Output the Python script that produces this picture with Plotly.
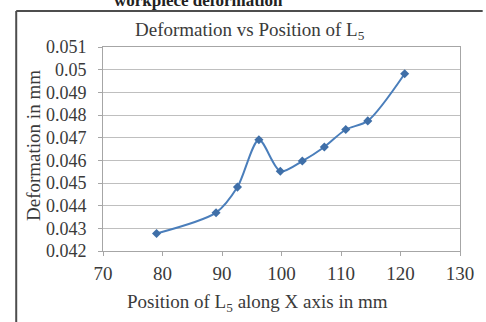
import plotly.graph_objects as go

# Position of L5 along the X axis (mm) and the resulting deformation (mm)
position_mm = [79.0, 89.0, 92.6, 96.2, 99.8, 103.5, 107.2, 110.8, 114.5, 120.7]
deformation_mm = [0.04277, 0.04369, 0.04482, 0.04691, 0.04552, 0.04597, 0.04659, 0.04736, 0.04774, 0.04982]

x_ticks = [70, 80, 90, 100, 110, 120, 130]
y_ticks = [0.042, 0.043, 0.044, 0.045, 0.046, 0.047, 0.048, 0.049, 0.05, 0.051]
y_tick_text = ["0.042", "0.043", "0.044", "0.045", "0.046", "0.047", "0.048", "0.049", "0.05", "0.051"]

W, H = 486, 322
L, R, T, B = 103, 21, 47, 71
pw, ph = W - L - R, H - T - B


def px_x(px):
    return (px - L) / pw


def px_y(py):
    return (H - B - py) / ph


serif = "Liberation Serif, Times New Roman, serif"
ink = "#3a3a3a"

fig = go.Figure()
fig.add_trace(go.Scatter(
    x=position_mm, y=deformation_mm,
    mode="lines+markers",
    line=dict(color="#4a7ebb", width=2, shape="spline", smoothing=0.8),
    marker=dict(symbol="diamond", size=7, color="#3f6fa8"),
    showlegend=False,
))

axis_common = dict(
    showline=True, linecolor="#a6a6a6", linewidth=1, mirror=True,
    ticks="outside", ticklen=4, tickcolor="#a6a6a6",
    zeroline=False,
)

fig.update_xaxes(range=[70, 130], tickvals=x_ticks, showgrid=False,
                 tickfont=dict(family=serif, size=19, color=ink),
                 ticklabelstandoff=1, **axis_common)
fig.update_yaxes(range=[0.042, 0.051], tickvals=y_ticks, ticktext=y_tick_text,
                 showgrid=True, gridcolor="#bfbfbf", gridwidth=1,
                 tickfont=dict(family=serif, size=18, color=ink),
                 ticklabelstandoff=8, **axis_common)

fig.update_layout(
    width=W, height=H,
    margin=dict(l=L, r=R, t=T, b=B),
    paper_bgcolor="white", plot_bgcolor="white",
    shapes=[
        # outer frame: left and top edges
        dict(type="line", xref="paper", yref="paper",
             x0=px_x(15), x1=px_x(15), y0=px_y(11), y1=px_y(H + 2),
             line=dict(color="#4d4d4d", width=2)),
        dict(type="line", xref="paper", yref="paper",
             x0=px_x(15), x1=px_x(W + 2), y0=px_y(11), y1=px_y(11),
             line=dict(color="#4d4d4d", width=2)),
    ],
    annotations=[
        dict(text="<b>workpiece deformation</b>", xref="paper", yref="paper",
             x=px_x(200), y=px_y(1), xanchor="center", yanchor="middle",
             showarrow=False, font=dict(family=serif, size=17, color="#222222")),
        dict(text="Deformation vs Position of L<sub>5</sub>", xref="paper", yref="paper",
             x=px_x(252), y=px_y(31), xanchor="center", yanchor="middle",
             showarrow=False, font=dict(family=serif, size=19, color=ink)),
        dict(text="Position of L<sub>5</sub> along X axis in mm", xref="paper", yref="paper",
             x=px_x(260), y=px_y(303), xanchor="center", yanchor="middle",
             showarrow=False, font=dict(family=serif, size=19, color=ink)),
        dict(text="Deformation in mm", xref="paper", yref="paper", textangle=-90,
             x=px_x(32), y=px_y(145), xanchor="center", yanchor="middle",
             showarrow=False, font=dict(family=serif, size=19, color=ink)),
    ],
)

fig.write_html("out.html")
